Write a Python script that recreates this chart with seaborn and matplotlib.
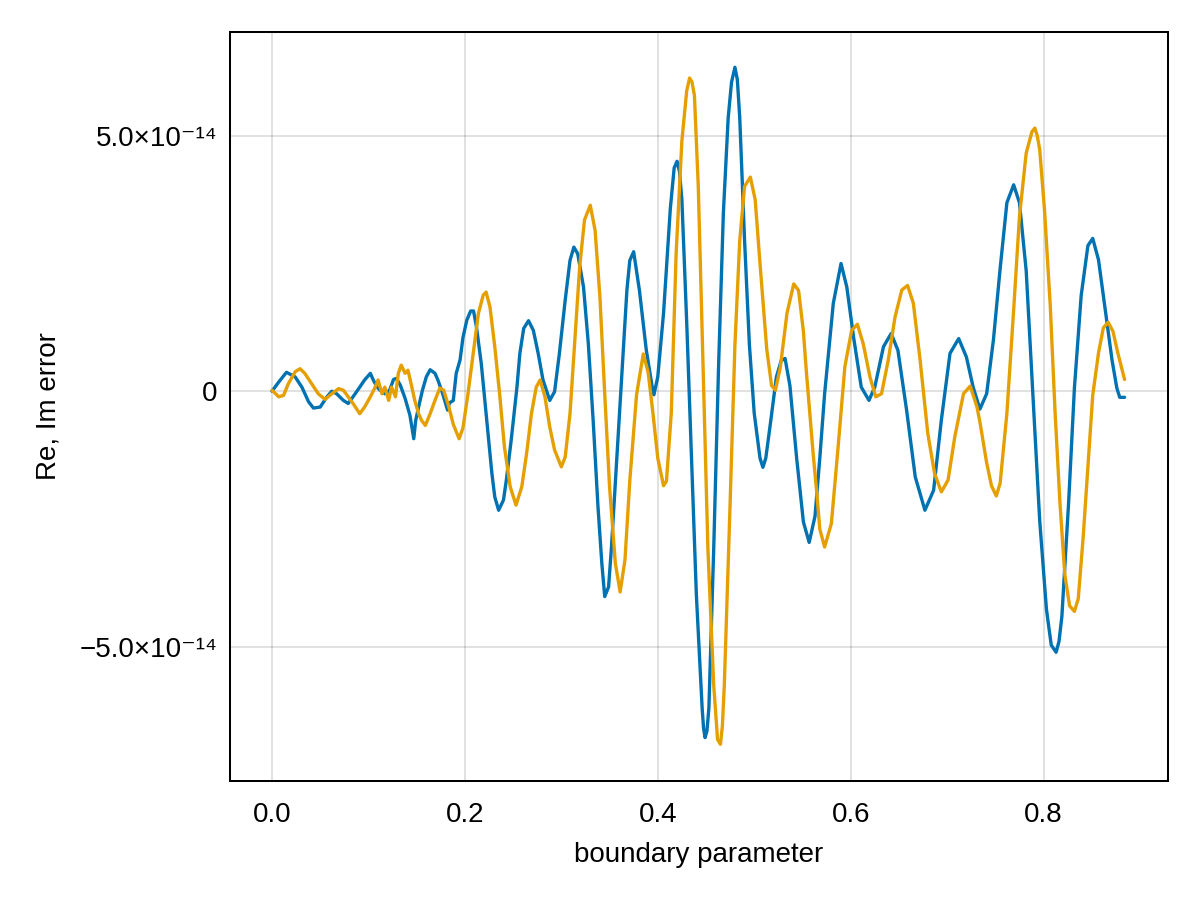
import numpy as np
import pandas as pd
import matplotlib
matplotlib.use("Agg")
import matplotlib.pyplot as plt
import seaborn as sns
from matplotlib.ticker import FixedLocator, FixedFormatter

# values, y in units of 1e-14
re_x = [0.000, 0.007, 0.015, 0.024, 0.031, 0.038, 0.043, 0.050, 0.057, 0.062,
        0.067, 0.074, 0.079, 0.084, 0.091, 0.096, 0.102, 0.105, 0.109, 0.112,
        0.117, 0.122, 0.126, 0.129, 0.133, 0.138, 0.143, 0.147, 0.149, 0.152,
        0.156, 0.160, 0.164, 0.169, 0.172, 0.177, 0.182, 0.184, 0.188, 0.191,
        0.195, 0.198, 0.202, 0.206, 0.209, 0.212, 0.217, 0.223, 0.228, 0.231,
        0.235, 0.240, 0.243, 0.248, 0.254, 0.257, 0.261, 0.266, 0.271, 0.276,
        0.281, 0.288, 0.293, 0.298, 0.304, 0.309, 0.313, 0.317, 0.323, 0.328,
        0.333, 0.338, 0.342, 0.345, 0.349, 0.352, 0.357, 0.362, 0.368, 0.371,
        0.375, 0.381, 0.388, 0.394, 0.396, 0.400, 0.406, 0.413, 0.417, 0.420,
        0.4225, 0.425, 0.430, 0.435, 0.440, 0.446, 0.4475, 0.449, 0.451, 0.453,
        0.458, 0.463, 0.468, 0.473, 0.4765, 0.480, 0.4825, 0.485, 0.490, 0.495,
        0.500, 0.506, 0.509, 0.512, 0.517,
        0.523, 0.528, 0.532, 0.537, 0.544, 0.551, 0.557, 0.563, 0.568, 0.573,
        0.582, 0.590, 0.596, 0.603, 0.611, 0.619, 0.625, 0.634, 0.642, 0.649,
        0.658, 0.667, 0.677, 0.686, 0.694, 0.703, 0.712, 0.720, 0.727, 0.734,
        0.741, 0.748, 0.755, 0.762, 0.769, 0.775, 0.782, 0.789, 0.796, 0.803,
        0.808, 0.813, 0.816, 0.819, 0.826, 0.832, 0.839, 0.846, 0.851, 0.857,
        0.864, 0.871, 0.876, 0.879, 0.884]
re_err = [0.00, 0.18, 0.37, 0.28, 0.08, -0.21, -0.33, -0.31, -0.11, 0.00,
          -0.05, -0.18, -0.24, -0.11, 0.08, 0.22, 0.35, 0.22, 0.08, 0.02,
          -0.05, 0.02, 0.23, 0.25, 0.12, -0.14, -0.47, -0.93, -0.57, -0.31,
          0.02, 0.28, 0.42, 0.35, 0.22, -0.05, -0.37, -0.23, -0.18, 0.35,
          0.61, 1.05, 1.39, 1.57, 1.57, 1.26, 0.54, -0.63, -1.61, -2.07,
          -2.33, -2.13, -1.74, -0.96, 0.08, 0.74, 1.23, 1.38, 1.19, 0.74,
          0.22, -0.18, -0.01, 0.74, 1.78, 2.56, 2.82, 2.69, 2.04, 0.93,
          -0.57, -2.26, -3.37, -4.02, -3.83, -3.05, -1.48, 0.10, 1.98, 2.56,
          2.73, 1.97, 0.82, 0.11, -0.07, 0.28, 1.53, 3.57, 4.37, 4.50,
          4.30, 3.75, 1.35, -1.31, -3.98, -6.20, -6.60, -6.78, -6.65, -6.20,
          -3.09, 0.46, 3.48, 5.35, 6.05, 6.34, 6.10, 5.35, 2.95, 0.91,
          -0.43, -1.31, -1.49, -1.31, -0.60,
          0.28, 0.60, 0.64, 0.11, -1.31, -2.56, -2.96, -2.45, -1.31, -0.05,
          1.72, 2.50, 2.04, 1.06, 0.08, -0.18, 0.08, 0.87, 1.13, 0.80,
          -0.37, -1.68, -2.33, -1.94, -0.57, 0.74, 1.03, 0.67, 0.08, -0.35,
          -0.05, 1.00, 2.40, 3.69, 4.04, 3.69, 2.36, -0.08, -2.53, -4.27,
          -4.97, -5.11, -4.90, -4.41, -2.18, 0.06, 1.87, 2.85, 2.99, 2.57,
          1.59, 0.61, 0.06, -0.12, -0.12]

im_x = [0.000, 0.007, 0.012, 0.017, 0.024, 0.029, 0.034, 0.041, 0.048, 0.055,
        0.062, 0.069, 0.074, 0.079, 0.084, 0.091, 0.096, 0.102, 0.107, 0.110,
        0.114, 0.117, 0.121, 0.124, 0.128, 0.131, 0.134, 0.138, 0.141, 0.145,
        0.148, 0.152, 0.155, 0.159, 0.164, 0.169, 0.174, 0.178, 0.183, 0.188,
        0.194, 0.198, 0.203, 0.209, 0.214, 0.219, 0.222, 0.226, 0.231, 0.236,
        0.241, 0.247, 0.253, 0.259, 0.264, 0.269, 0.274, 0.278, 0.283, 0.288,
        0.293, 0.300, 0.304, 0.309, 0.314, 0.319, 0.324, 0.330, 0.335, 0.340,
        0.345, 0.350, 0.356, 0.361, 0.366, 0.371, 0.378, 0.385, 0.390, 0.395,
        0.400, 0.406, 0.409, 0.414, 0.419, 0.425, 0.430, 0.433, 0.4355, 0.438,
        0.442, 0.447, 0.452, 0.458, 0.462, 0.465, 0.467, 0.469, 0.475, 0.480,
        0.485, 0.490, 0.496, 0.501, 0.506, 0.513, 0.518, 0.522, 0.527, 0.534,
        0.541, 0.546, 0.551, 0.554, 0.561, 0.565, 0.568, 0.573, 0.580, 0.587,
        0.594, 0.601, 0.607, 0.613, 0.620, 0.626, 0.632, 0.639, 0.646, 0.653,
        0.659, 0.665, 0.672, 0.680, 0.687, 0.694, 0.701, 0.708, 0.717, 0.724,
        0.731, 0.734, 0.741, 0.746, 0.751, 0.755, 0.762, 0.769, 0.775, 0.782,
        0.788, 0.791, 0.7935, 0.796, 0.801, 0.807, 0.812, 0.817, 0.822, 0.827,
        0.832, 0.836, 0.841, 0.846, 0.851, 0.857, 0.862, 0.867, 0.872, 0.877,
        0.884]
im_err = [0.02, -0.11, -0.08, 0.15, 0.38, 0.44, 0.35, 0.15, -0.05, -0.16,
          -0.05, 0.05, 0.02, -0.11, -0.24, -0.44, -0.31, -0.11, 0.08, 0.22,
          -0.05, 0.08, -0.18, 0.08, -0.11, 0.35, 0.51, 0.35, 0.41, 0.08,
          -0.18, -0.44, -0.57, -0.67, -0.44, -0.18, 0.06, 0.02, -0.28, -0.65,
          -0.93, -0.72, -0.08, 0.80, 1.52, 1.88, 1.94, 1.65, 0.87, -0.05,
          -1.09, -1.87, -2.23, -1.87, -1.22, -0.44, 0.08, 0.22, -0.11, -0.70,
          -1.15, -1.48, -1.29, -0.44, 1.00, 2.43, 3.35, 3.64, 3.15, 1.85,
          -0.05, -1.87, -3.37, -3.93, -3.30, -1.75, -0.07, 0.73, 0.37, -0.43,
          -1.31, -1.85, -1.76, -0.43, 2.68, 4.90, 5.88, 6.13, 6.05, 5.79,
          4.01, 0.46, -3.09, -5.75, -6.82, -6.91, -6.55, -5.75, -2.20, 0.91,
          2.95, 4.01, 4.19, 3.75, 2.50, 0.82, 0.11, 0.02, 0.46, 1.53,
          2.10, 1.97, 1.17, 0.40, -1.20, -2.02, -2.70, -3.05, -2.59, -1.09,
          0.48, 1.19, 1.31, 0.93, 0.28, -0.11, -0.05, 0.61, 1.45, 1.98,
          2.07, 1.72, 0.61, -0.83, -1.61, -1.97, -1.74, -0.89, -0.05, 0.10,
          -0.31, -0.60, -1.40, -1.85, -2.05, -1.80, -0.43, 1.59, 3.41, 4.66,
          5.08, 5.15, 5.00, 4.73, 3.55, 1.66, -0.43, -2.18, -3.58, -4.20,
          -4.31, -4.06, -2.88, -1.48, -0.08, 0.75, 1.24, 1.35, 1.17, 0.75,
          0.23]

x_ticks = [0.0, 0.2, 0.4, 0.6, 0.8]
y_ticks = [-5e-14, 0.0, 5e-14]
y_tick_labels = ["\u22125.0\u00d710\u207b\u00b9\u2074", "0", "5.0\u00d710\u207b\u00b9\u2074"]

sns.set_theme(style="white")
plt.rcParams['font.family'] = ['Liberation Sans', 'DejaVu Sans']
plt.rcParams['font.size'] = 20

df = pd.concat([
    pd.DataFrame({"t": re_x, "err": np.array(re_err) * 1e-14, "part": "Re"}),
    pd.DataFrame({"t": im_x, "err": np.array(im_err) * 1e-14, "part": "Im"}),
], ignore_index=True)

fig = plt.figure(figsize=(12, 9), dpi=100)
ax = fig.add_axes([0.1917, 0.1322, 0.7816, 0.8322])

sns.lineplot(data=df, x="t", y="err", hue="part", palette=["#0072B2", "#E69F00"],
             estimator=None, sort=False, legend=False, linewidth=2.4, ax=ax)

ax.set_xlim(-0.0435, 0.929)
ax.set_ylim(-7.63e-14, 7.03e-14)
ax.xaxis.set_major_locator(FixedLocator(x_ticks))
ax.xaxis.set_major_formatter(FixedFormatter([f"{v:.1f}" for v in x_ticks]))
ax.yaxis.set_major_locator(FixedLocator(y_ticks))
ax.yaxis.set_major_formatter(FixedFormatter(y_tick_labels))

ax.grid(True, color="black", alpha=0.12, linewidth=1.4)
ax.set_axisbelow(True)
for s in ax.spines.values():
    s.set_color("black")
    s.set_linewidth(1.45)
ax.tick_params(direction="out", length=7.2, width=1.45, color="black",
               labelsize=20, labelcolor="black")
ax.tick_params(axis="x", pad=8)
ax.tick_params(axis="y", pad=2)

ax.set_xlabel("boundary parameter", fontsize=20, labelpad=10, color="black")
ax.set_ylabel("Re, Im error", fontsize=20, labelpad=13, color="black")

fig.savefig("out.png", dpi=100)
